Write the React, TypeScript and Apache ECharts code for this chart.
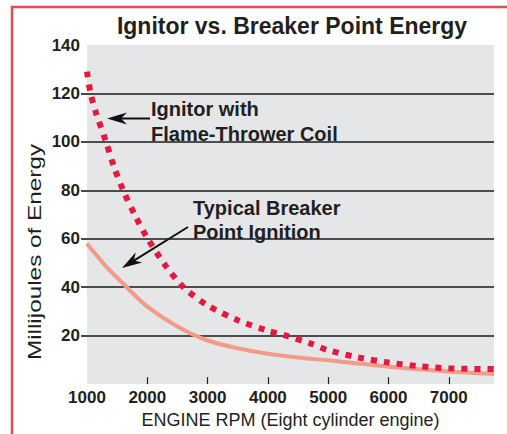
import React, { useEffect, useRef } from "react";
import * as echarts from "echarts";

const titleText = "Ignitor vs. Breaker Point Energy";
const xAxisName = "ENGINE RPM (Eight cylinder engine)";
const yAxisName = "Millijoules of Energy";

const ignitorRpm = [1000, 1060, 1150, 1316, 1450, 1600, 1800, 2000, 2300, 2600, 3000, 3500, 4000, 4300, 4700, 5000, 5500, 6000, 6500, 7000, 7750];
const ignitorMj = [129, 120, 112, 100, 89.5, 80, 69.5, 60.3, 49, 40, 32.5, 26.4, 22, 20, 16.8, 14, 11, 8.9, 7.4, 6.5, 6.2];

const breakerRpm = [1000, 1300, 1660, 2000, 2500, 3000, 3500, 4000, 4500, 5000, 6000, 7000, 7750];
const breakerMj = [58, 49, 40, 32, 23.8, 18, 14.8, 12.5, 11, 9.8, 7.2, 5.2, 4.2];

const xTickLabels = [1000, 2000, 3000, 4000, 5000, 6000, 7000];
const xTickMarks = [2000, 3000, 4000, 5000, 6000, 7000];
const yTickLabels = [20, 40, 60, 80, 100, 120, 140];
const yTickMarks = [20, 40, 60, 80, 100, 120];

const ignitorLabel = "Ignitor with\nFlame-Thrower Coil";
const breakerLabel = "Typical Breaker\nPoint Ignition";

const FONT = "Liberation Sans";
const INK = "#231f20";

function arrow(tail: number[], tip: number[]) {
  const dx = tail[0] - tip[0];
  const dy = tail[1] - tip[1];
  const d = Math.sqrt(dx * dx + dy * dy);
  const ux = dx / d, uy = dy / d;
  const px = -uy, py = ux;
  const L = 20, N = 14, H = 6;
  return [
    {
      type: "line",
      shape: { x1: tail[0], y1: tail[1], x2: tip[0] + ux * N, y2: tip[1] + uy * N },
      style: { stroke: "#111", lineWidth: 2 },
    },
    {
      type: "polygon",
      shape: {
        points: [
          [tip[0], tip[1]],
          [tip[0] + ux * L + px * H, tip[1] + uy * L + py * H],
          [tip[0] + ux * N, tip[1] + uy * N],
          [tip[0] + ux * L - px * H, tip[1] + uy * L - py * H],
        ],
      },
      style: { fill: "#111" },
    },
  ];
}

export default function App() {
  const ref = useRef<HTMLDivElement>(null);
  useEffect(() => {
    if (!ref.current) return;
    const chart = echarts.init(ref.current, undefined, { renderer: "svg" });
    const option: any = {
      animation: false,
      backgroundColor: "#ffffff",
      title: {
        text: titleText,
        left: 292,
        top: 14,
        padding: 0,
        textAlign: "center",
        textStyle: { fontFamily: FONT, fontWeight: "bold", fontSize: 23, color: INK },
      },
      grid: {
        left: 87,
        right: 13,
        top: 45,
        bottom: 43,
        show: true,
        backgroundColor: "#e5e6e8",
        borderWidth: 0,
        containLabel: false,
      },
      xAxis: {
        type: "value",
        min: 1000,
        max: 7750,
        interval: 1000,
        name: xAxisName,
        nameLocation: "middle",
        nameGap: 22,
        nameTextStyle: { fontFamily: FONT, fontSize: 18, color: INK },
        axisLine: { show: false },
        axisTick: {
          show: true,
          inside: true,
          length: 7,
          customValues: xTickMarks,
          lineStyle: { color: "#222", width: 1.2 },
        },
        axisLabel: {
          customValues: xTickLabels,
          formatter: (v: number) => String(v),
          margin: 5,
          fontFamily: FONT,
          fontWeight: "bold",
          fontSize: 17,
          color: INK,
        },
        splitLine: { show: false },
      },
      yAxis: {
        type: "value",
        min: 0,
        max: 140,
        interval: 20,
        axisLine: { show: false },
        axisTick: {
          show: true,
          length: 6,
          customValues: yTickMarks,
          lineStyle: { color: "#1a1a1a", width: 1.6 },
        },
        axisLabel: {
          customValues: yTickLabels,
          formatter: (v: number) => String(v),
          margin: 7,
          fontFamily: FONT,
          fontWeight: "bold",
          fontSize: 17,
          color: INK,
        },
        splitLine: {
          show: true,
          lineStyle: { color: "#1a1a1a", width: 1.6 },
        },
      },
      series: [
        {
          name: "Typical Breaker Point Ignition",
          type: "line",
          data: breakerRpm.map((r, i) => [r, breakerMj[i]]),
          smooth: 0.3,
          symbol: "none",
          lineStyle: { color: "#f39a88", width: 4 },
          z: 3,
        },
        {
          name: "Ignitor with Flame-Thrower Coil",
          type: "line",
          data: ignitorRpm.map((r, i) => [r, ignitorMj[i]]),
          smooth: 0.3,
          symbol: "none",
          lineStyle: { color: "#e5193f", width: 6, type: [6, 7], cap: "butt" },
          z: 4,
        },
      ],
      graphic: [
        {
          type: "polyline",
          shape: { points: [[12, 434], [12, 7], [507, 7]] },
          style: { stroke: "#e34a56", lineWidth: 2.5, fill: "none" },
          silent: true,
        },
        {
          type: "text",
          x: 34,
          y: 252,
          rotation: Math.PI / 2,
          scaleX: 1.28,
          style: {
            text: yAxisName,
            font: `19px ${FONT}`,
            fill: INK,
            textAlign: "center",
            textVerticalAlign: "middle",
          },
        },
        {
          type: "text",
          x: 151,
          y: 96,
          style: {
            text: ignitorLabel,
            font: `bold 20px ${FONT}`,
            lineHeight: 25,
            fill: INK,
            textAlign: "left",
            textVerticalAlign: "top",
          },
          z: 10,
        },
        {
          type: "text",
          x: 193,
          y: 196,
          style: {
            text: breakerLabel,
            font: `bold 20px ${FONT}`,
            lineHeight: 24,
            fill: INK,
            textAlign: "left",
            textVerticalAlign: "top",
          },
          z: 10,
        },
        ...arrow([150, 118.5], [107, 118.5]),
        ...arrow([188, 227], [122, 268]),
      ],
    };
    chart.setOption(option);
    return () => chart.dispose();
  }, []);
  return (
    <div
      ref={ref}
      style={{ position: "fixed", left: 0, top: 0, width: 507, height: 434 }}
    />
  );
}
